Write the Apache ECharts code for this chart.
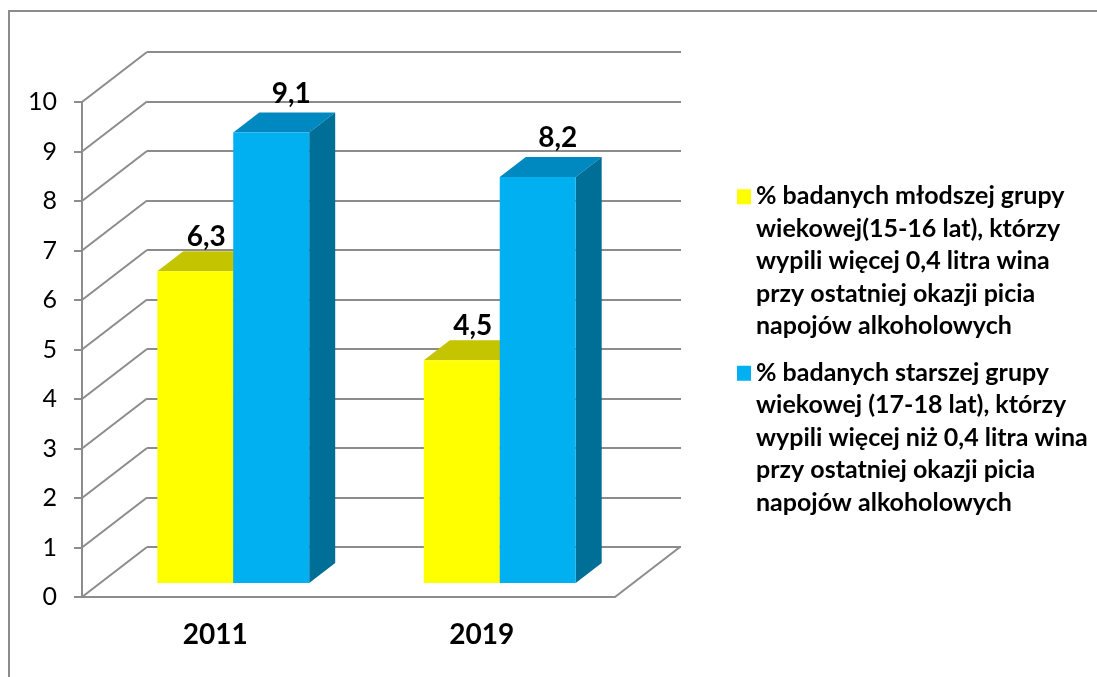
<!DOCTYPE html>
<html>
<head>
<meta charset="utf-8">
<script src="https://cdn.jsdelivr.net/npm/echarts@6/dist/echarts.min.js"></script>
<style>
html, body { margin: 0; padding: 0; background: #fff; }
#chart { width: 1097px; height: 677px; }
</style>
</head>
<body>
<div id="chart"></div>
<script>
// dane
const years = ['2011', '2019']
const youngerValues = [6.3, 4.5]
const olderValues = [9.1, 8.2]
const yMin = 0
const yMax = 10
const yStep = 1
const youngerLines = [
    '% badanych młodszej grupy',
    'wiekowej(15-16 lat), którzy',
    'wypili więcej 0,4 litra wina',
    'przy ostatniej okazji picia',
    'napojów alkoholowych',
]
const olderLines = [
    '% badanych starszej grupy',
    'wiekowej (17-18 lat), którzy',
    'wypili więcej niż 0,4 litra wina',
    'przy ostatniej okazji picia',
    'napojów alkoholowych',
]
const youngerName = youngerLines.join(' ')
const olderName = olderLines.join(' ')

// wygląd "3D" jak w Excelu
const FONT = 'Lato, Carlito, "Open Sans", sans-serif'
const GRID_COLOR = '#8c8c8c'
const FRONT = { left: 82, top: 102, width: 533, height: 495 }
const DEPTH = [65, -50]      // przesunięcie tylnej ściany
const BAR_SHIFT = [18, -14]  // płaszczyzna słupków
const BAR_DEPTH = [26, -20]  // głębokość słupka
const GAP = 0.43
const colors = {
    young: { front: '#ffff00', top: '#c4c400', side: '#a8a800' },
    old: { front: '#00b0f0', top: '#0088c0', side: '#006f98' },
}

const chart = echarts.init(document.getElementById('chart'))

// ściany boczne + podłoga
const wallData = []
for (let k = yMin; k <= yMax; k += yStep) wallData.push([0, k])

const renderWall = (params, api) => {
    const cs = params.coordSys
    const p = api.coord([0, api.value(1)])
    const lineStyle = { stroke: GRID_COLOR, lineWidth: 2 }
    const children = [{
        type: 'line',
        shape: { x1: cs.x, y1: p[1], x2: cs.x + DEPTH[0], y2: p[1] + DEPTH[1] },
        style: lineStyle,
    }]
    if (api.value(1) === yMin) {
        children.push({
            type: 'line',
            shape: { x1: cs.x + cs.width, y1: p[1], x2: cs.x + cs.width + DEPTH[0], y2: p[1] + DEPTH[1] },
            style: lineStyle,
        })
    }
    return { type: 'group', children }
}

// góra i bok słupka
const makeFaces = (values, idx, c) => ({
    type: 'custom',
    xAxisIndex: 2,
    yAxisIndex: 2,
    z: 1,
    silent: true,
    data: values.map((v, i) => [i, v]),
    renderItem: (params, api) => {
        const base = api.coord([api.value(0), 0])
        const top = api.coord([api.value(0), api.value(1)])
        const band = api.size([1, 0])[0]
        const w = band * (1 - GAP) / 2
        const x0 = base[0] - w + idx * w
        const x1 = x0 + w
        const [dx, dy] = BAR_DEPTH
        return {
            type: 'group',
            children: [
                {
                    type: 'polygon',
                    shape: { points: [[x0, top[1]], [x1, top[1]], [x1 + dx, top[1] + dy], [x0 + dx, top[1] + dy]] },
                    style: { fill: c.top },
                },
                {
                    type: 'polygon',
                    shape: { points: [[x1, top[1]], [x1 + dx, top[1] + dy], [x1 + dx, base[1] + dy], [x1, base[1]]] },
                    style: { fill: c.side },
                },
            ],
        }
    },
})

const barLabel = (dx, dist) => ({
    show: true,
    position: 'top',
    distance: dist,
    offset: [dx, 0],
    color: '#000',
    fontFamily: FONT,
    fontWeight: 'bold',
    fontSize: 28,
    formatter: (p) => String(p.value).replace('.', ','),
})

const option = {
    animation: false,
    backgroundColor: '#fff',
    graphic: [{
        type: 'rect',
        shape: { x: 9, y: 11, width: 1300, height: 900 },
        style: { fill: 'none', stroke: GRID_COLOR, lineWidth: 2 },
        silent: true,
    }],
    legend: {
        orient: 'vertical',
        left: 732,
        top: 175,
        itemWidth: 14,
        itemHeight: 144,
        itemGap: 14,
        icon: 'path://M0,0H14V15H0Z M0,143.9H0.1V144H0Z',
        data: [youngerName, olderName],
        formatter: (name) => (name === youngerName ? youngerLines : olderLines).join('\n'),
        textStyle: {
            fontFamily: FONT,
            fontWeight: 'bold',
            fontSize: 25,
            lineHeight: 32.5,
            color: '#000',
        },
        selectedMode: false,
    },
    grid: [
        { left: FRONT.left, top: FRONT.top, width: FRONT.width, height: FRONT.height },
        { left: FRONT.left + DEPTH[0], top: FRONT.top + DEPTH[1], width: FRONT.width + 1, height: FRONT.height },
        { left: FRONT.left + BAR_SHIFT[0], top: FRONT.top + BAR_SHIFT[1], width: FRONT.width, height: FRONT.height },
    ],
    xAxis: [
        {
            gridIndex: 0,
            type: 'category',
            data: years,
            axisLine: { lineStyle: { color: GRID_COLOR, width: 2 } },
            axisTick: { length: 10, lineStyle: { color: GRID_COLOR, width: 2 } },
            axisLabel: { margin: 24, color: '#000', fontFamily: FONT, fontWeight: 'bold', fontSize: 28 },
        },
        { gridIndex: 1, type: 'value', show: false },
        { gridIndex: 2, type: 'category', data: years, show: false },
    ],
    yAxis: [
        {
            gridIndex: 0,
            type: 'value',
            min: yMin,
            max: yMax,
            interval: yStep,
            axisLine: { show: true, lineStyle: { color: GRID_COLOR, width: 2 } },
            axisTick: { show: true, length: 8, lineStyle: { color: GRID_COLOR, width: 2 } },
            splitLine: { show: false },
            axisLabel: { margin: 25, color: '#000', fontFamily: FONT, fontSize: 25 },
        },
        {
            gridIndex: 1,
            type: 'value',
            min: yMin,
            max: yMax,
            interval: yStep,
            axisLine: { show: false },
            axisTick: { show: false },
            axisLabel: { show: false },
            splitLine: { lineStyle: { color: GRID_COLOR, width: 2 } },
        },
        { gridIndex: 2, type: 'value', min: yMin, max: yMax, interval: yStep, show: false, splitLine: { show: false } },
    ],
    series: [
        {
            type: 'custom',
            xAxisIndex: 0,
            yAxisIndex: 0,
            z: 0,
            silent: true,
            data: wallData,
            renderItem: renderWall,
        },
        makeFaces(youngerValues, 0, colors.young),
        makeFaces(olderValues, 1, colors.old),
        {
            name: youngerName,
            type: 'bar',
            xAxisIndex: 2,
            yAxisIndex: 2,
            z: 2,
            barGap: 0,
            barCategoryGap: (GAP * 100) + '%',
            itemStyle: { color: colors.young.front },
            label: barLabel(11, 20),
            data: youngerValues,
        },
        {
            name: olderName,
            type: 'bar',
            xAxisIndex: 2,
            yAxisIndex: 2,
            z: 2,
            barGap: 0,
            barCategoryGap: (GAP * 100) + '%',
            itemStyle: { color: colors.old.front },
            label: barLabel(20, 25),
            data: olderValues,
        },
    ],
}

chart.setOption(option)
</script>
</body>
</html>
